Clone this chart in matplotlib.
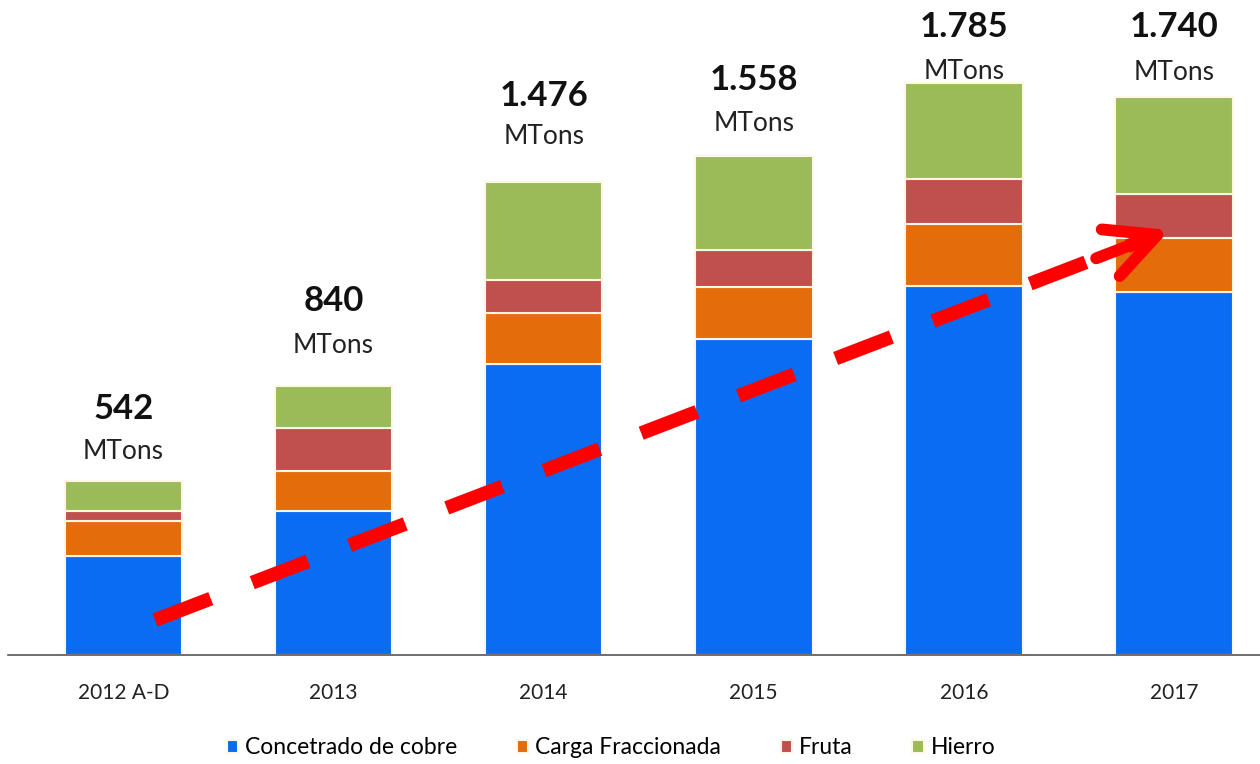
import matplotlib
matplotlib.use("Agg")
import matplotlib.pyplot as plt
import numpy as np

plt.rcParams['font.family'] = ['Lato', 'DejaVu Sans']

years = ['2012 A-D', '2013', '2014', '2015', '2016', '2017']
totals = ['542', '840', '1.476', '1.558', '1.785', '1.740']
cobre = [310, 450, 909, 987, 1152, 1132]
carga = [108, 124, 159, 160, 193, 168]
fruta = [31, 133, 103, 116, 140, 140]
hierro = [93, 133, 305, 295, 300, 300]

series = [('Concetrado de cobre', cobre, '#0A6CF2'),
          ('Carga Fraccionada', carga, '#E46C0A'),
          ('Fruta', fruta, '#C0504D'),
          ('Hierro', hierro, '#9BBB59')]

# label offsets above bar top (pixels)
num_off = [72, 85, 86, 76, 56, 70]
mt_off = [30, 40, 46, 32, 11, 25]

fig = plt.figure(figsize=(12.6, 7.64), dpi=100)
ax = fig.add_axes([0.006, 0.1427, 0.994, 0.8573])

x = np.arange(len(years))
bottom = np.zeros(len(years))
for name, vals, col in series:
    ax.bar(x, vals, 0.56, bottom=bottom, color=col, edgecolor='#FFF6E6',
           linewidth=1.5, label=name, zorder=2)
    bottom += np.array(vals)

for i in range(len(years)):
    ax.annotate(totals[i], (x[i], bottom[i]), xytext=(0, num_off[i]),
                textcoords='offset pixels', ha='center', va='center',
                fontsize=25, fontweight='bold', color='#111111')
    ax.annotate('MTons', (x[i], bottom[i]), xytext=(0, mt_off[i]),
                textcoords='offset pixels', ha='center', va='center',
                fontsize=19, color='#222222')

# trend arrow
x0, y0, x1, y1 = 0.15, 109, 4.98, 1326
slope = (y1 - y0) / (x1 - x0)
ax.plot([x0, x1 - 0.12], [y0, y1 - 0.12 * slope], color='#FF0000',
        lw=10, dashes=(4.3, 3.2), solid_capstyle='butt', zorder=5)
ax.annotate('', xy=(x1, y1), xytext=(x1 - 0.35, y1 - 0.35 * slope),
            arrowprops=dict(arrowstyle='->,head_length=3.6,head_width=1.8',
                            color='#FF0000', lw=8.5, shrinkA=0, shrinkB=0),
            zorder=6)

ax.set_xlim(-0.552, 5.41)
ax.set_ylim(0, 2044)
ax.set_xticks(x)
ax.set_xticklabels(years, fontsize=15, color='#222222')
ax.tick_params(axis='x', length=0, pad=20)
ax.set_yticks([])
for s in ['top', 'right', 'left']:
    ax.spines[s].set_visible(False)
ax.spines['bottom'].set_color('#555555')
ax.spines['bottom'].set_linewidth(1.2)

fig.legend(loc='center', bbox_to_anchor=(0.485, 0.021), ncol=4, frameon=False,
           fontsize=16.5, handlelength=0.5, handleheight=0.5, handletextpad=0.3,
           columnspacing=2.6)

fig.savefig('out.png', dpi=100)
